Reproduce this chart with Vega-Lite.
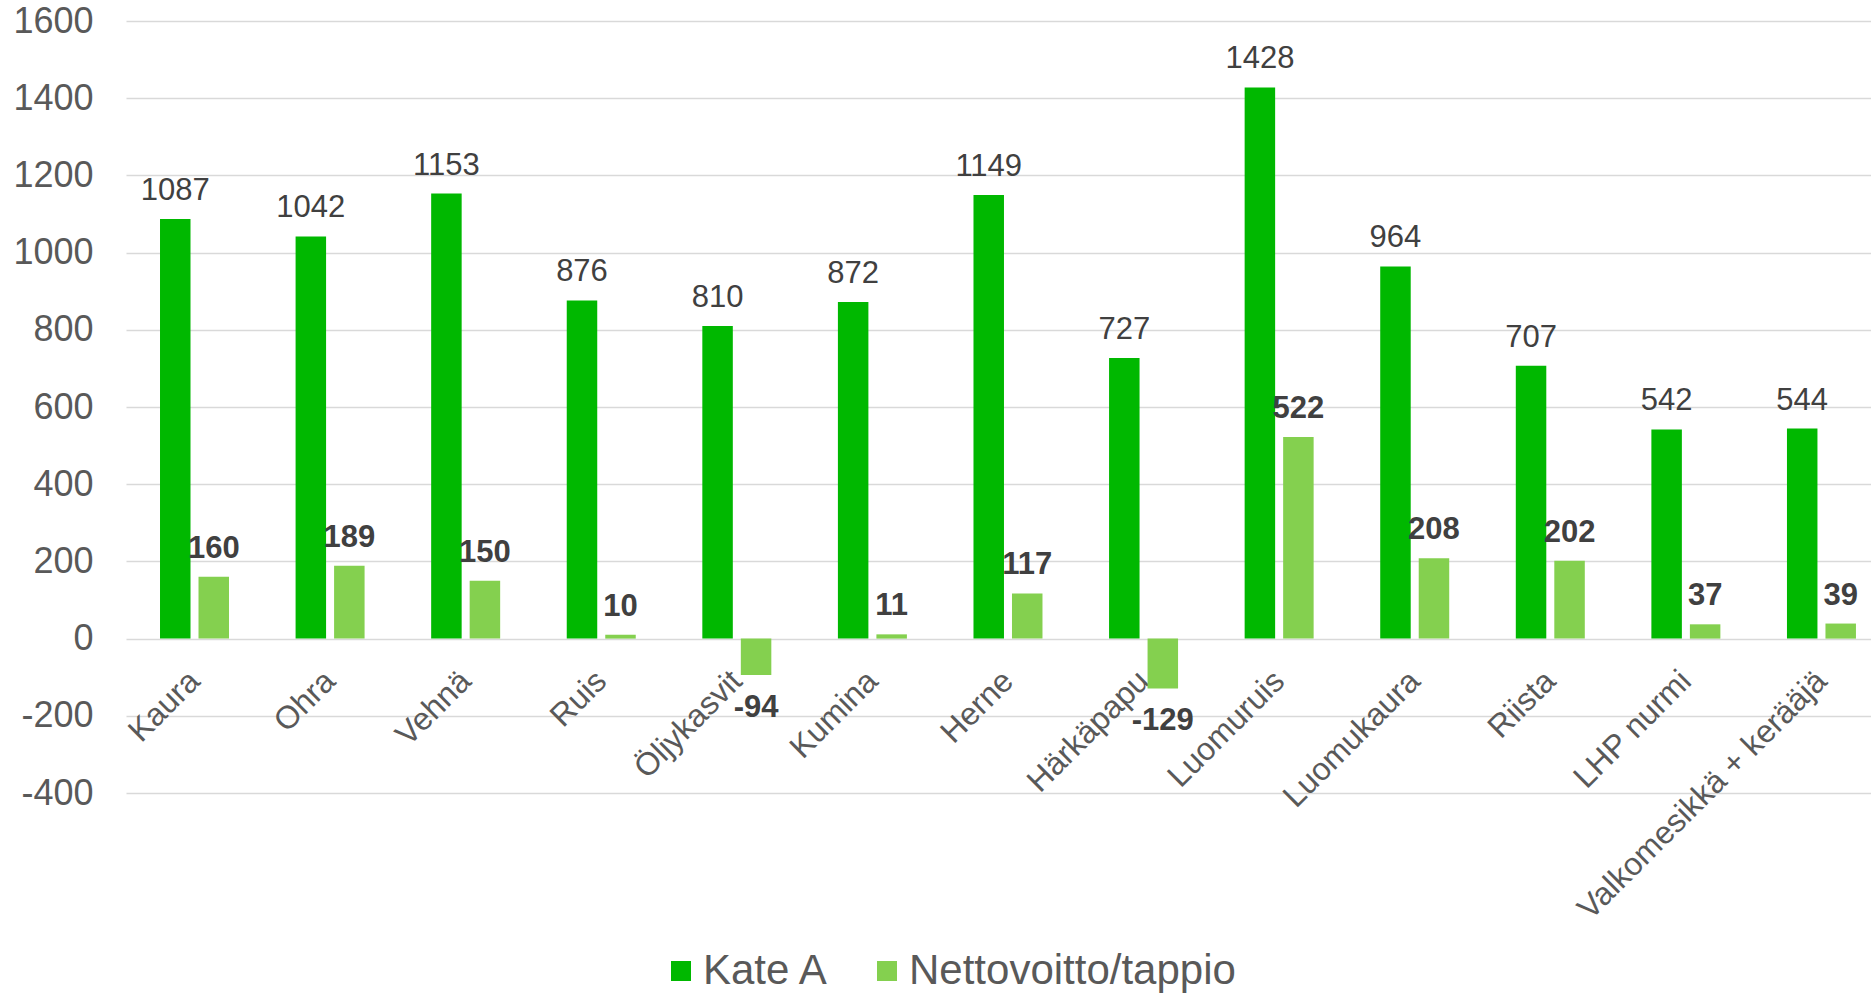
{
  "$schema": "https://vega.github.io/schema/vega-lite/v6.json",
  "width": 1745,
  "height": 772,
  "autosize": {"type": "none"},
  "padding": {"left": 126, "top": 21, "right": 0, "bottom": 203},
  "background": "white",
  "config": {
    "view": {"stroke": null},
    "font": "Liberation Sans",
    "locale": {"number": {"decimal": ".", "thousands": ",", "grouping": [3], "currency": ["$", ""], "minus": "-"}}
  },
  "data": {
    "values": [
      {"kasvi": "Kaura", "sarja": "Kate A", "arvo": 1087},
      {"kasvi": "Kaura", "sarja": "Nettovoitto/tappio", "arvo": 160},
      {"kasvi": "Ohra", "sarja": "Kate A", "arvo": 1042},
      {"kasvi": "Ohra", "sarja": "Nettovoitto/tappio", "arvo": 189},
      {"kasvi": "Vehnä", "sarja": "Kate A", "arvo": 1153},
      {"kasvi": "Vehnä", "sarja": "Nettovoitto/tappio", "arvo": 150},
      {"kasvi": "Ruis", "sarja": "Kate A", "arvo": 876},
      {"kasvi": "Ruis", "sarja": "Nettovoitto/tappio", "arvo": 10},
      {"kasvi": "Öljykasvit", "sarja": "Kate A", "arvo": 810},
      {"kasvi": "Öljykasvit", "sarja": "Nettovoitto/tappio", "arvo": -94},
      {"kasvi": "Kumina", "sarja": "Kate A", "arvo": 872},
      {"kasvi": "Kumina", "sarja": "Nettovoitto/tappio", "arvo": 11},
      {"kasvi": "Herne", "sarja": "Kate A", "arvo": 1149},
      {"kasvi": "Herne", "sarja": "Nettovoitto/tappio", "arvo": 117},
      {"kasvi": "Härkäpapu", "sarja": "Kate A", "arvo": 727},
      {"kasvi": "Härkäpapu", "sarja": "Nettovoitto/tappio", "arvo": -129},
      {"kasvi": "Luomuruis", "sarja": "Kate A", "arvo": 1428},
      {"kasvi": "Luomuruis", "sarja": "Nettovoitto/tappio", "arvo": 522},
      {"kasvi": "Luomukaura", "sarja": "Kate A", "arvo": 964},
      {"kasvi": "Luomukaura", "sarja": "Nettovoitto/tappio", "arvo": 208},
      {"kasvi": "Riista", "sarja": "Kate A", "arvo": 707},
      {"kasvi": "Riista", "sarja": "Nettovoitto/tappio", "arvo": 202},
      {"kasvi": "LHP nurmi", "sarja": "Kate A", "arvo": 542},
      {"kasvi": "LHP nurmi", "sarja": "Nettovoitto/tappio", "arvo": 37},
      {"kasvi": "Valkomesikkä + kerääjä", "sarja": "Kate A", "arvo": 544},
      {"kasvi": "Valkomesikkä + kerääjä", "sarja": "Nettovoitto/tappio", "arvo": 39}
    ]
  },
  "encoding": {
    "x": {
      "field": "kasvi",
      "type": "nominal",
      "sort": null,
      "scale": {"paddingInner": 0.4911, "paddingOuter": 0.1809, "align": 0.6933, "round": false},
      "axis": {
        "title": null,
        "orient": "bottom",
        "offset": -154.4,
        "domain": false,
        "ticks": false,
        "tickSize": 0,
        "grid": false,
        "labelAngle": -45,
        "labelAlign": "right",
        "labelBaseline": "middle",
        "labelFontSize": 32,
        "labelColor": "#595959",
        "labelPadding": 37,
        "labelOffset": 0,
        "labelLimit": 1000,
        "labelOverlap": false
      }
    },
    "xOffset": {
      "field": "sarja",
      "type": "nominal",
      "scale": {"domain": ["Kate A", "Nettovoitto/tappio"], "paddingInner": 0.208, "paddingOuter": 0}
    },
    "y": {
      "field": "arvo",
      "type": "quantitative",
      "scale": {"domain": [-400, 1600], "nice": false, "zero": false},
      "axis": {
        "title": null,
        "values": [-400, -200, 0, 200, 400, 600, 800, 1000, 1200, 1400, 1600],
        "format": "d",
        "domain": false,
        "ticks": false,
        "grid": true,
        "gridColor": "#d9d9d9",
        "gridWidth": 1.5,
        "labelFontSize": 36,
        "labelColor": "#595959",
        "labelPadding": 33
      }
    }
  },
  "layer": [
    {
      "mark": {"type": "bar"},
      "encoding": {
        "color": {
          "field": "sarja",
          "type": "nominal",
          "scale": {"domain": ["Kate A", "Nettovoitto/tappio"], "range": ["#00b800", "#84d04f"]},
          "legend": {
            "title": null,
            "orient": "none",
            "legendX": 534,
            "legendY": 929,
            "direction": "horizontal",
            "symbolType": "square",
            "symbolSize": 400,
            "symbolStrokeWidth": 0,
            "labelFontSize": 42,
            "labelColor": "#595959",
            "labelOffset": 1,
            "labelLimit": 1000,
            "columnPadding": 36,
            "padding": 0
          }
        }
      }
    },
    {
      "transform": [{"filter": "datum.sarja === 'Kate A'"}],
      "mark": {"type": "text", "dy": -19, "baseline": "alphabetic", "fontSize": 31, "color": "#404040"},
      "encoding": {"text": {"field": "arvo", "type": "quantitative", "format": "d"}}
    },
    {
      "transform": [{"filter": "datum.sarja !== 'Kate A' && datum.arvo >= 0"}],
      "mark": {"type": "text", "dy": -19, "baseline": "alphabetic", "fontSize": 31, "fontWeight": "bold", "color": "#404040"},
      "encoding": {"text": {"field": "arvo", "type": "quantitative", "format": "d"}}
    },
    {
      "transform": [{"filter": "datum.sarja !== 'Kate A' && datum.arvo < 0"}],
      "mark": {"type": "text", "dy": 42, "baseline": "alphabetic", "fontSize": 31, "fontWeight": "bold", "color": "#404040"},
      "encoding": {"text": {"field": "arvo", "type": "quantitative", "format": "d"}}
    }
  ]
}
